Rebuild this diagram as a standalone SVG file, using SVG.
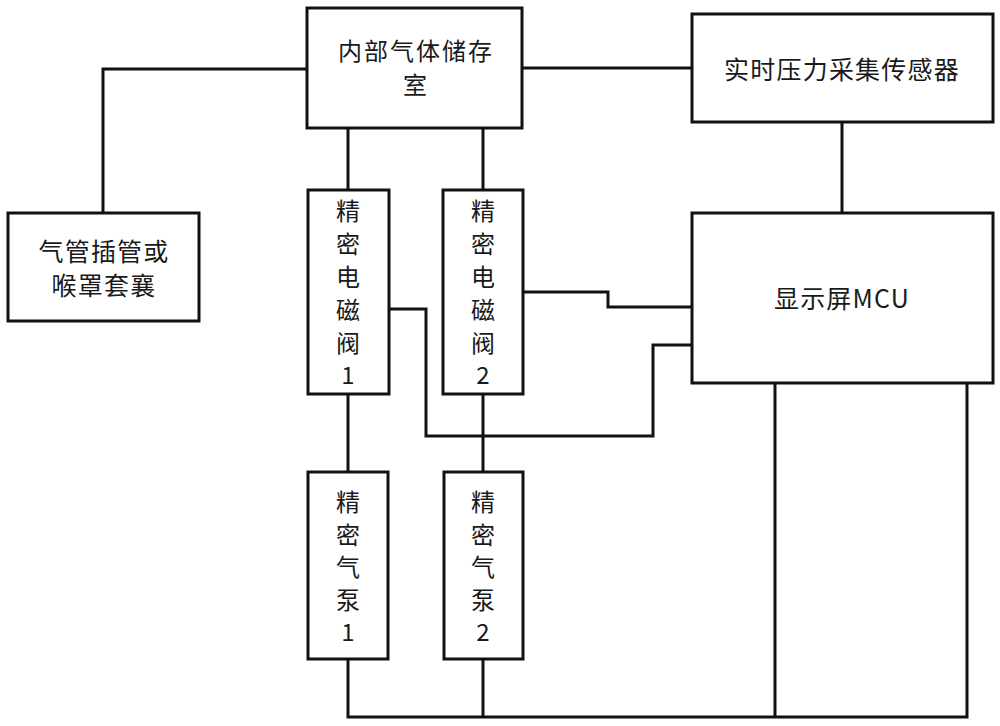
<svg xmlns="http://www.w3.org/2000/svg" width="1000" height="726" viewBox="0 0 1000 726">
<style>
.box{fill:#fff;stroke:#111;stroke-width:3}
.ln{fill:none;stroke:#111;stroke-width:3;stroke-linejoin:miter}
text{font-family:"Noto Sans CJK SC","Noto Sans",sans-serif;font-size:24px;fill:#1a1a1a;text-anchor:middle}
.h{font-size:25px;letter-spacing:1.2px}
.s{font-size:24px;letter-spacing:2px}
</style>
<rect width="1000" height="726" fill="#fff"/>
<g id="connectors">
<polyline class="ln" points="307,69 103,69 103,213"/>
<line class="ln" x1="522" y1="68" x2="692" y2="68"/>
<line class="ln" x1="842" y1="122" x2="842" y2="213"/>
<line class="ln" x1="348" y1="128" x2="348" y2="190"/>
<line class="ln" x1="483" y1="128" x2="483" y2="190"/>
<line class="ln" x1="348" y1="394" x2="348" y2="472"/>
<line class="ln" x1="483" y1="394" x2="483" y2="472"/>
<polyline class="ln" points="389,309 426,309 426,436 653,436 653,345 692,345"/>
<polyline class="ln" points="523,292 608,292 608,307 692,307"/>
<polyline class="ln" points="348,659 348,717 967,717 967,383"/>
<line class="ln" x1="483" y1="659" x2="483" y2="717"/>
<line class="ln" x1="775" y1="383" x2="775" y2="717"/>
</g>
<g id="storage">
<rect class="box" x="307" y="8" width="215" height="120"/>
<text class="s" x="416" y="60">内部气体储存</text>
<text class="s" x="416" y="94">室</text>
</g>
<g id="sensor">
<rect class="box" x="692" y="14" width="301" height="108"/>
<text class="h" x="842" y="79">实时压力采集传感器</text>
</g>
<g id="airway">
<rect class="box" x="8" y="213" width="191" height="108"/>
<text class="h" x="104" y="261">气管插管或</text>
<text class="h" x="104" y="295">喉罩套襄</text>
</g>
<g id="valve1">
<rect class="box" x="308" y="190" width="81" height="204"/>
<text x="348" y="220">精</text>
<text x="348" y="253">密</text>
<text x="348" y="286">电</text>
<text x="348" y="319">磁</text>
<text x="348" y="352">阀</text>
<text x="348" y="384">1</text>
</g>
<g id="valve2">
<rect class="box" x="443" y="190" width="80" height="204"/>
<text x="483" y="220">精</text>
<text x="483" y="253">密</text>
<text x="483" y="286">电</text>
<text x="483" y="319">磁</text>
<text x="483" y="352">阀</text>
<text x="483" y="384">2</text>
</g>
<g id="pump1">
<rect class="box" x="308" y="472" width="80" height="187"/>
<text x="348" y="511">精</text>
<text x="348" y="544">密</text>
<text x="348" y="576">气</text>
<text x="348" y="609">泵</text>
<text x="348" y="641">1</text>
</g>
<g id="pump2">
<rect class="box" x="444" y="472" width="79" height="187"/>
<text x="483" y="511">精</text>
<text x="483" y="544">密</text>
<text x="483" y="576">气</text>
<text x="483" y="609">泵</text>
<text x="483" y="641">2</text>
</g>
<g id="mcu">
<rect class="box" x="692" y="213" width="301" height="170"/>
<text class="h" x="842" y="308">显示屏MCU</text>
</g>
</svg>
